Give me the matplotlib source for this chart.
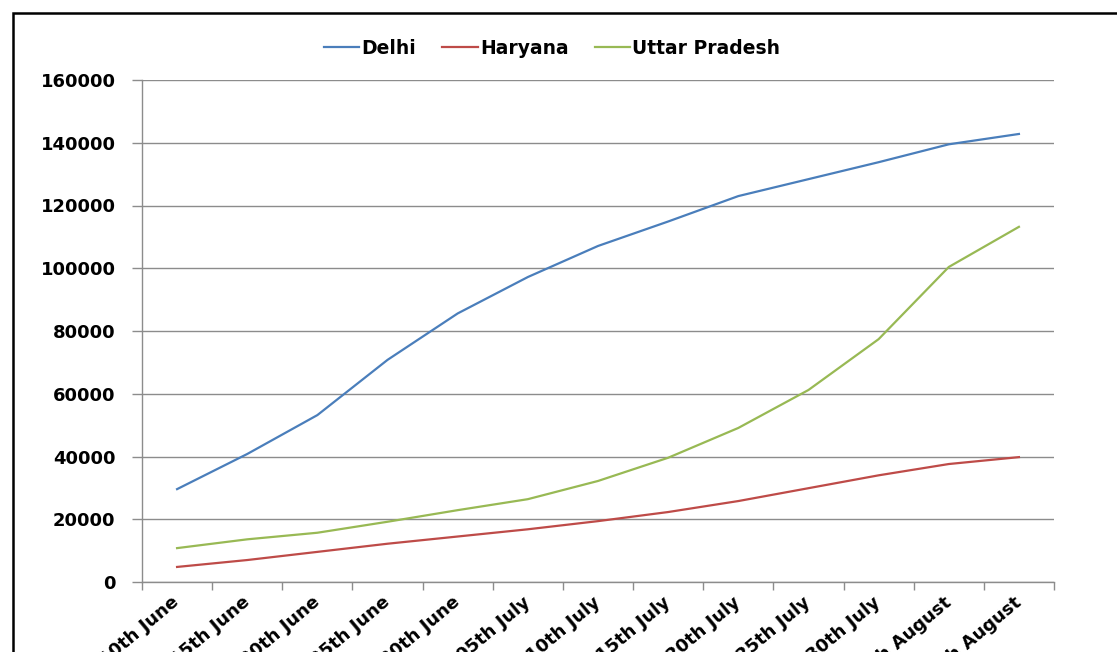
import numpy as np
import matplotlib
matplotlib.use("Agg")
import matplotlib.pyplot as plt
from matplotlib.patches import Rectangle

dates = ["10th June", "15th June", "20th June", "25th June", "30th June",
         "05th July", "10th July", "15th July", "20th July", "25th July",
         "30th July", "04th August", "09th August"]

delhi = [29600, 40800, 53200, 70800, 85600, 97200, 107100,
         114900, 123000, 128400, 133800, 139500, 142800]
haryana = [4800, 7000, 9600, 12200, 14500, 16800, 19400,
           22300, 25800, 29900, 34000, 37600, 39800]
uttar_pradesh = [10800, 13600, 15700, 19200, 22900, 26400, 32200,
                 39600, 49100, 61200, 77400, 100400, 113200]

W, H = 1117, 652
plt.rcParams["font.family"] = ["DejaVu Sans"]
plt.rcParams["font.weight"] = "bold"

fig = plt.figure(figsize=(W / 100, H / 100), dpi=100)
ax = fig.add_axes([142 / W, 1 - 582 / H, 912 / W, 502 / H])

x = np.arange(len(dates))
ax.plot(x, delhi, color="#4a7ebb", lw=1.6, label="Delhi")
ax.plot(x, haryana, color="#be4b48", lw=1.6, label="Haryana")
ax.plot(x, uttar_pradesh, color="#98b954", lw=1.6, label="Uttar Pradesh")

ax.set_xlim(-0.5, len(dates) - 0.5)
ax.set_ylim(0, 160000)

grey = "#8c8c8c"
ax.set_yticks(np.arange(0, 160001, 20000))
ax.set_yticklabels([str(v) for v in range(0, 160001, 20000)], fontsize=13, fontweight="bold")
ax.yaxis.grid(True, color=grey, lw=1.0)
ax.set_axisbelow(True)

# category boundaries get the tick marks, labels sit at the centres
ax.set_xticks(np.arange(-0.5, len(dates)), labels=[])
ax.set_xticks(x, minor=True)
ax.set_xticklabels(dates, minor=True, rotation=40, ha="right", va="center",
                   rotation_mode="anchor", fontsize=13, fontweight="bold")
ax.tick_params(axis="x", which="major", length=6, color=grey, width=1)
ax.tick_params(axis="x", which="minor", length=0, pad=13)
ax.tick_params(axis="y", length=7, color=grey, width=1, pad=12)

for side in ["top", "right"]:
    ax.spines[side].set_visible(False)
for side in ["left", "bottom"]:
    ax.spines[side].set_color(grey)
    ax.spines[side].set_linewidth(1.0)

fig.legend(loc="center", bbox_to_anchor=(552 / W, 1 - 48 / H), ncol=3,
           frameon=False, prop={"weight": "bold", "size": 13.5},
           handlelength=1.9, handletextpad=0.1, columnspacing=1.4)

fig.add_artist(Rectangle((12.5 / W, -0.1), 1.2, 1.1 - 13 / H,
                         transform=fig.transFigure, fill=False,
                         ec="black", lw=1.8, clip_on=False))

fig.savefig("out.png", dpi=100)
